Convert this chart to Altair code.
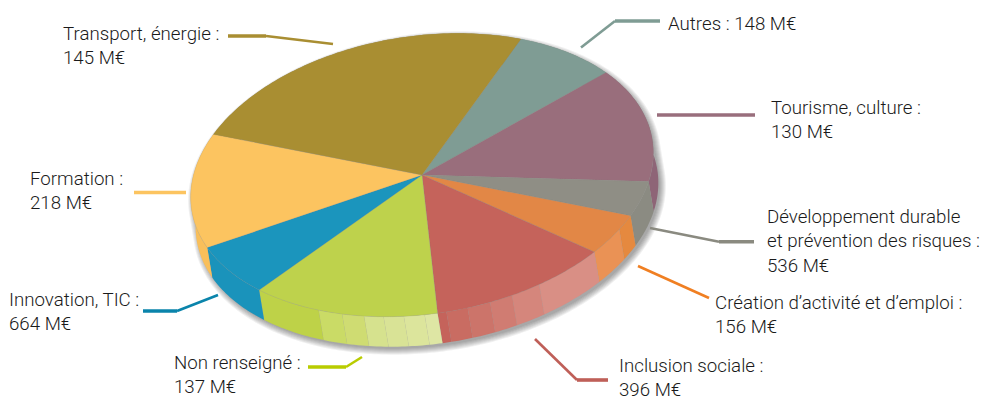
import math
import altair as alt

# Legend entries, clockwise from the wedge that starts at the top of the disc
names = ["Autres", "Tourisme, culture", "Développement durable\net prévention des risques",
         "Création d’activité et d’emploi", "Inclusion sociale", "Non renseigné",
         "Innovation, TIC", "Formation", "Transport, énergie"]
amounts = [148, 130, 536, 156, 396, 137, 664, 218, 145]
# Wedge sizes in percent of the disc; the printed amounts are a separate series
shares = [7.6, 13.6, 3.9, 4.5, 12.3, 13.5, 6.5, 13.2, 24.9]

top_colors = ["#7f9c94", "#996e7c", "#8f8e85", "#e28746", "#c5635b",
              "#bed24c", "#1b95bd", "#fcc460", "#a98e32"]
# Side-wall shading: each wedge's rim is cut into bands (end fraction, colour)
wall_bands = [
    [(1, "#7f9c94")],
    [(1, "#8e6577")],
    [(1, "#8b8b82")],
    [(0.36, "#e5893f"), (1, "#ea9255")],
    [(0.40, "#d98f85"), (0.57, "#d5867c"), (0.70, "#d07c72"),
     (0.83, "#cc746a"), (0.95, "#c96c62"), (1, "#c5635b")],
    [(0.066, "#dee6a4"), (0.172, "#dce59c"), (0.276, "#d9e396"), (0.378, "#d6e28e"),
     (0.495, "#cfdc72"), (0.626, "#cadb66"), (1, "#bed248")],
    [(1, "#1a93bb")],
    [(1, "#f9bf5a")],
    [(1, "#a98e32")],
]

# Label placement: left edge and first baseline
label_x = [668, 771, 767, 715, 619, 174, 9, 30, 63]
label_y = [30, 114, 223, 309, 372, 369, 306, 185, 40]
line_step = 24.3

# Leader lines: one polyline per wedge, colour and points
leaders = [
    ("#7f9c94", [(581, 47.5), (615, 21), (660, 21)]),
    ("#996e7c", [(657, 115), (755, 115)]),
    ("#8a8a80", [(650, 228), (719, 241.7), (754, 241.7)]),
    ("#f07f22", [(638, 266), (709, 298)]),
    ("#bf5f58", [(535, 339), (577, 380), (608, 380)]),
    ("#b9cc00", [(362, 357), (346, 367), (308, 367)]),
    ("#0a84ab", [(218, 295), (177, 311), (143, 311)]),
    ("#fcc460", [(186, 192.5), (134, 192.5)]),
    ("#a98e32", [(333, 44), (266, 36), (228, 36)]),
]

# Disc geometry on the page
CX, CY = 422, 175
RX, RY = 233, 139
TILT = math.radians(8.5)
START = 59.6
DEPTH = (5, 30)


def rim(t_deg, rx=RX, ry=RY, off=(0, 0)):
    t = math.radians(t_deg)
    u, v = rx * math.cos(t), ry * math.sin(t)
    return [CX + u * math.cos(TILT) - v * math.sin(TILT) + off[0],
            CY - u * math.sin(TILT) - v * math.cos(TILT) + off[1]]


def arc(t0, t1, **kw):
    n = max(2, int(abs(t1 - t0)) + 1)
    return [rim(t0 + (t1 - t0) * i / n, **kw) for i in range(n + 1)]


def feature(ring, fill, opacity=1):
    return {"type": "Feature",
            "properties": {"fill": fill, "alpha": opacity},
            "geometry": {"type": "Polygon", "coordinates": [ring + [ring[0]]]}}


def hull(points):
    points = sorted(map(tuple, points))

    def half(seq):
        out = []
        for p in seq:
            while len(out) > 1 and ((out[-1][0] - out[-2][0]) * (p[1] - out[-2][1])
                                    - (out[-1][1] - out[-2][1]) * (p[0] - out[-2][0])) <= 0:
                out.pop()
            out.append(p)
        return out[:-1]

    return [list(p) for p in half(points) + half(points[::-1])]


tops, walls = [], []
angle = START
for share, color, bands in zip(shares, top_colors, wall_bands):
    sweep = share * 3.6
    end = angle - sweep
    tops.append(feature([[CX, CY]] + arc(angle, end), color))
    lo = 0
    for hi, shade in bands:
        a0, a1 = angle - sweep * lo, angle - sweep * hi
        walls.append(feature(arc(a0, a1) + arc(a1, a0, off=DEPTH), shade))
        lo = hi
    angle = end

# Soft shadow built from stacked translucent silhouettes
shadow = []
for grow in range(-1, 6):
    pts = arc(0, 360, rx=RX + grow, ry=RY + grow, off=(2.5, 3)) + \
        arc(0, 360, rx=RX + grow, ry=RY + grow, off=(DEPTH[0] + 2.5, DEPTH[1] + 3))
    shadow.append(feature(hull(pts), "#30302c", 0.07))


def shapes(features, **mark):
    return alt.Chart(alt.Data(values=features)).mark_geoshape(**mark).encode(
        color=alt.Color(field="properties.fill", type="nominal", scale=None),
        opacity=alt.Opacity(field="properties.alpha", type="quantitative", scale=None),
    ).project(type="identity", scale=1, translate=[0, 0])


segments = []
for color, pts in leaders:
    for i in range(len(pts) - 1):
        (x0, y0), (x1, y1) = pts[i], pts[i + 1]
        segments.append({"x": x0, "y": y0, "x2": x1, "y2": y1, "c": color,
                         "w": 3.6 if y0 == y1 else 2.6})

text_rows = []
for name, amount, lx, ly in zip(names, amounts, label_x, label_y):
    if name == "Autres":
        text_rows.append({"x": lx, "y": ly, "t": f"{name} : {amount} M€"})
        continue
    lines = (name + " :").split("\n") + [f"{amount} M€"]
    for i, line in enumerate(lines):
        text_rows.append({"x": lx, "y": ly + i * line_step, "t": line})

x_page = alt.Scale(domain=[0, 982], range=[0, 982])
y_page = alt.Scale(domain=[0, 401], range=[0, 401])

rules = alt.Chart(alt.Data(values=segments)).mark_rule(strokeCap="butt").encode(
    x=alt.X("x:Q", scale=x_page, axis=None),
    y=alt.Y("y:Q", scale=y_page, axis=None),
    x2="x2:Q",
    y2="y2:Q",
    color=alt.Color("c:N", scale=None),
    strokeWidth=alt.StrokeWidth("w:Q", scale=None),
)

labels = alt.Chart(alt.Data(values=text_rows)).mark_text(
    align="left", baseline="alphabetic", font="Roboto", fontWeight=300,
    fontSize=18.7, color="#1a1a1a",
).encode(
    x=alt.X("x:Q", scale=x_page, axis=None),
    y=alt.Y("y:Q", scale=y_page, axis=None),
    text="t:N",
)

chart = alt.layer(
    shapes(shadow, strokeWidth=0),
    shapes(walls, stroke="#8f8f88", strokeWidth=0.15, strokeOpacity=0.25),
    shapes(tops, stroke="#8f8f88", strokeWidth=0.4, strokeOpacity=0.4),
    rules,
    labels,
).properties(
    width=982, height=401, padding=0, background="#ffffff",
    autosize=alt.AutoSizeParams(type="none"),
).configure_view(stroke=None)

chart.save("out.html", embed_options={"renderer": "svg", "actions": False})
